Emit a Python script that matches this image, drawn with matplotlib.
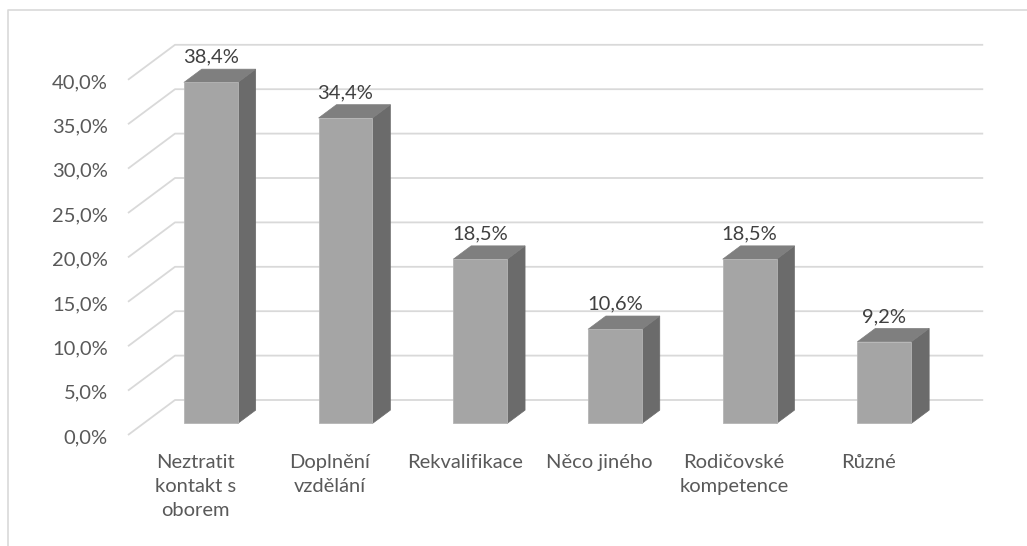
import numpy as np
import matplotlib.pyplot as plt
from matplotlib.patches import Polygon
from matplotlib.lines import Line2D

## data
categories = ["Neztratit\nkontakt s\noborem", "Doplnění\nvzdělání", "Rekvalifikace",
              "Něco jiného", "Rodičovské\nkompetence", "Různé"]
values = [38.4, 34.4, 18.5, 10.6, 18.5, 9.2]
yticks = [0, 5, 10, 15, 20, 25, 30, 35, 40]

plt.rcParams['font.family'] = ['Lato', 'DejaVu Sans']

W, H = 1027, 546
fig = plt.figure(figsize=(W / 100, H / 100), dpi=100)
ax = fig.add_axes([0, 0, 1, 1])
ax.axis('off')

# pixel scale of the plot (front plane)
px_x = 134.7      # px per category
px_y = 8.88       # px per percent
x0_px, y0_px = 128, 435
ax.set_xlim(-x0_px / px_x, (W - x0_px) / px_x)
ax.set_ylim(-(H - y0_px) / px_y, y0_px / px_y)

# oblique depth of the 3d box (in data units)
DX = 47 / px_x
DY = 35 / px_y
f0, f1 = 0.33, 0.71   # bar front / back depth fraction
bw = 0.40             # bar width
fs = 14.5

grid_c = '#d9d9d9'
n = len(categories)
for t in yticks:
    ax.plot([0, DX, n + DX], [t, t + DY, t + DY], color=grid_c, lw=1.3, zorder=1,
            solid_capstyle='butt')
    ax.text(-20 / px_x, t - 0.3, f"{t:.1f}".replace('.', ',') + '%', ha='right', va='center',
            fontsize=fs, color='#595959')

for i, v in enumerate(values):
    xl = i + 0.5 - bw / 2
    xr = i + 0.5 + bw / 2
    a = (f0 * DX, f0 * DY)
    b = (f1 * DX, f1 * DY)
    front = [(xl + a[0], a[1]), (xr + a[0], a[1]), (xr + a[0], a[1] + v), (xl + a[0], a[1] + v)]
    side = [(xr + a[0], a[1]), (xr + b[0], b[1]), (xr + b[0], b[1] + v), (xr + a[0], a[1] + v)]
    top = [(xl + a[0], a[1] + v), (xr + a[0], a[1] + v), (xr + b[0], b[1] + v), (xl + b[0], b[1] + v)]
    ax.add_patch(Polygon(side, closed=True, fc='#6b6b6b', ec='#6b6b6b', lw=0.5, zorder=3))
    ax.add_patch(Polygon(top, closed=True, fc='#7f7f7f', ec='#7f7f7f', lw=0.5, zorder=3))
    ax.add_patch(Polygon(front, closed=True, fc='#a5a5a5', ec='#b5b5b5', lw=0.6, zorder=4))
    ax.text(i + 0.5 + a[0], b[1] + v + 0.4, f"{v:.1f}".replace('.', ',') + '%',
            ha='center', va='bottom', fontsize=fs, color='#404040', zorder=5)
    ax.text(i + 0.5, -19 / px_y, categories[i], ha='center', va='top', fontsize=fs,
            color='#595959', linespacing=1.5)

# chart frame (left and top edge only visible)
fx = 8 / W
fy = 1 - 10 / H
fig.add_artist(Line2D([fx, fx, 1], [0, fy, fy], transform=fig.transFigure,
                      color='#d9d9d9', lw=1.2))

fig.savefig('out.png', dpi=100)
